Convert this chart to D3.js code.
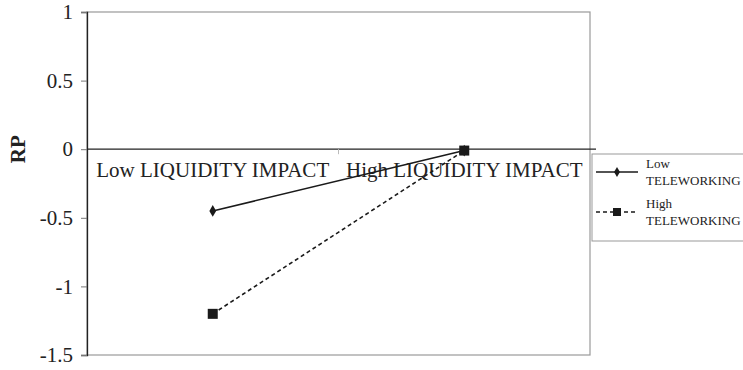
<!DOCTYPE html>
<html>
<head>
<meta charset="utf-8">
<script src="https://cdn.jsdelivr.net/npm/d3@7"></script>
<style>
  body { margin: 0; background: #fff; }
  text { font-family: "Liberation Serif", "Times New Roman", serif; fill: #222; }
</style>
</head>
<body>
<svg id="chart"></svg>
<script>
// categories on the x axis
const categories = ['Low LIQUIDITY IMPACT', 'High LIQUIDITY IMPACT'];
// series values
const lowTeleworking = [-0.45, -0.01];
const highTeleworking = [-1.2, -0.01];
const yTicks = [1, 0.5, 0, -0.5, -1, -1.5];

const series = [
  { name: ['Low', 'TELEWORKING'], values: lowTeleworking, dash: null, marker: 'diamond' },
  { name: ['High', 'TELEWORKING'], values: highTeleworking, dash: '4,3', marker: 'square' },
];

const config = {
  width: 743,
  height: 370,
  margin: { top: 12, right: 153, bottom: 15, left: 87 },
};

const innerW = config.width - config.margin.left - config.margin.right;
const innerH = config.height - config.margin.top - config.margin.bottom;

const svg = d3.select('#chart')
  .attr('width', config.width)
  .attr('height', config.height);

const chart = svg.append('g')
  .attr('transform', `translate(${config.margin.left},${config.margin.top})`);

const xScale = d3.scaleBand().domain(categories).range([0, innerW]);
const yScale = d3.scaleLinear().domain([-1.5, 1]).range([innerH, 0]);

// plot frame (gray top/right/bottom)
chart.append('rect')
  .attr('x', 0).attr('y', 0)
  .attr('width', innerW).attr('height', innerH)
  .attr('fill', 'none')
  .attr('stroke', '#999')
  .attr('stroke-width', 1.2);

// y axis
const yAxis = d3.axisLeft(yScale)
  .tickValues(yTicks)
  .tickSize(6)
  .tickPadding(8)
  .tickFormat((d) => d);

chart.append('g')
  .attr('class', 'y-axis')
  .call(yAxis)
  .call((g) => g.select('.domain').attr('stroke', '#222').attr('stroke-width', 1.3))
  .call((g) => g.selectAll('.tick line').attr('stroke', '#777'))
  .call((g) => g.selectAll('.tick text')
    .style('font-size', '21px')
    .attr('fill', '#222'));

// x axis at zero
const xAxisG = chart.append('g')
  .attr('transform', `translate(0,${yScale(0)})`);

xAxisG.append('line')
  .attr('x1', 0).attr('x2', innerW + 6)
  .attr('stroke', '#222')
  .attr('stroke-width', 1.2);

// category separator tick
xAxisG.append('line')
  .attr('x1', xScale.step()).attr('x2', xScale.step())
  .attr('y1', 0).attr('y2', 5)
  .attr('stroke', '#bbb');

xAxisG.selectAll('.cat-label')
  .data(categories)
  .join('text')
  .attr('class', 'cat-label')
  .attr('x', (d) => xScale(d) + xScale.bandwidth() / 2)
  .attr('y', 28)
  .attr('text-anchor', 'middle')
  .style('font-size', '21px')
  .text((d) => d);

// y axis title
svg.append('text')
  .attr('transform', `translate(25,${config.margin.top + yScale(0)}) rotate(-90)`)
  .attr('text-anchor', 'middle')
  .style('font-size', '21px')
  .attr('font-weight', 'bold')
  .text('RP');

const xPos = (i) => xScale(categories[i]) + xScale.bandwidth() / 2;

const line = d3.line()
  .x((d, i) => xPos(i))
  .y((d) => yScale(d));

function drawMarker(g, type, x, y) {
  if (type === 'diamond') {
    g.append('path')
      .attr('d', d3.symbol(d3.symbolDiamond, 40)())
      .attr('transform', `translate(${x},${y})`)
      .attr('fill', '#1a1a1a');
  } else {
    g.append('rect')
      .attr('x', x - 5).attr('y', y - 5)
      .attr('width', 10).attr('height', 10)
      .attr('fill', '#1a1a1a');
  }
}

series.forEach((s) => {
  chart.append('path')
    .datum(s.values)
    .attr('d', line)
    .attr('fill', 'none')
    .attr('stroke', '#1a1a1a')
    .attr('stroke-width', 1.6)
    .attr('stroke-dasharray', s.dash);
});

series.forEach((s) => {
  s.values.forEach((v, i) => drawMarker(chart, s.marker, xPos(i), yScale(v)));
});

// legend
const legend = svg.append('g')
  .attr('transform', `translate(${config.margin.left + innerW + 2},154)`);

legend.append('rect')
  .attr('x', 0).attr('y', 0)
  .attr('width', 200).attr('height', 87)
  .attr('fill', '#fff')
  .attr('stroke', '#999')
  .attr('stroke-width', 1);

series.forEach((s, i) => {
  const cy = 18 + i * 40;
  legend.append('line')
    .attr('x1', 4).attr('x2', 46)
    .attr('y1', cy).attr('y2', cy)
    .attr('stroke', '#1a1a1a')
    .attr('stroke-width', 1.6)
    .attr('stroke-dasharray', s.dash);
  if (s.marker === 'diamond') {
    legend.append('path')
      .attr('d', d3.symbol(d3.symbolDiamond, 30)())
      .attr('transform', `translate(25,${cy})`)
      .attr('fill', '#1a1a1a');
  } else {
    legend.append('rect')
      .attr('x', 21).attr('y', cy - 4)
      .attr('width', 8).attr('height', 8)
      .attr('fill', '#1a1a1a');
  }
  legend.append('text')
    .attr('x', 54)
    .attr('y', cy - 4)
    .style('font-size', '13px')
    .text(s.name[0]);
  legend.append('text')
    .attr('x', 54)
    .attr('y', cy + 13)
    .style('font-size', '13px')
    .text(s.name[1]);
});
</script>
</body>
</html>
